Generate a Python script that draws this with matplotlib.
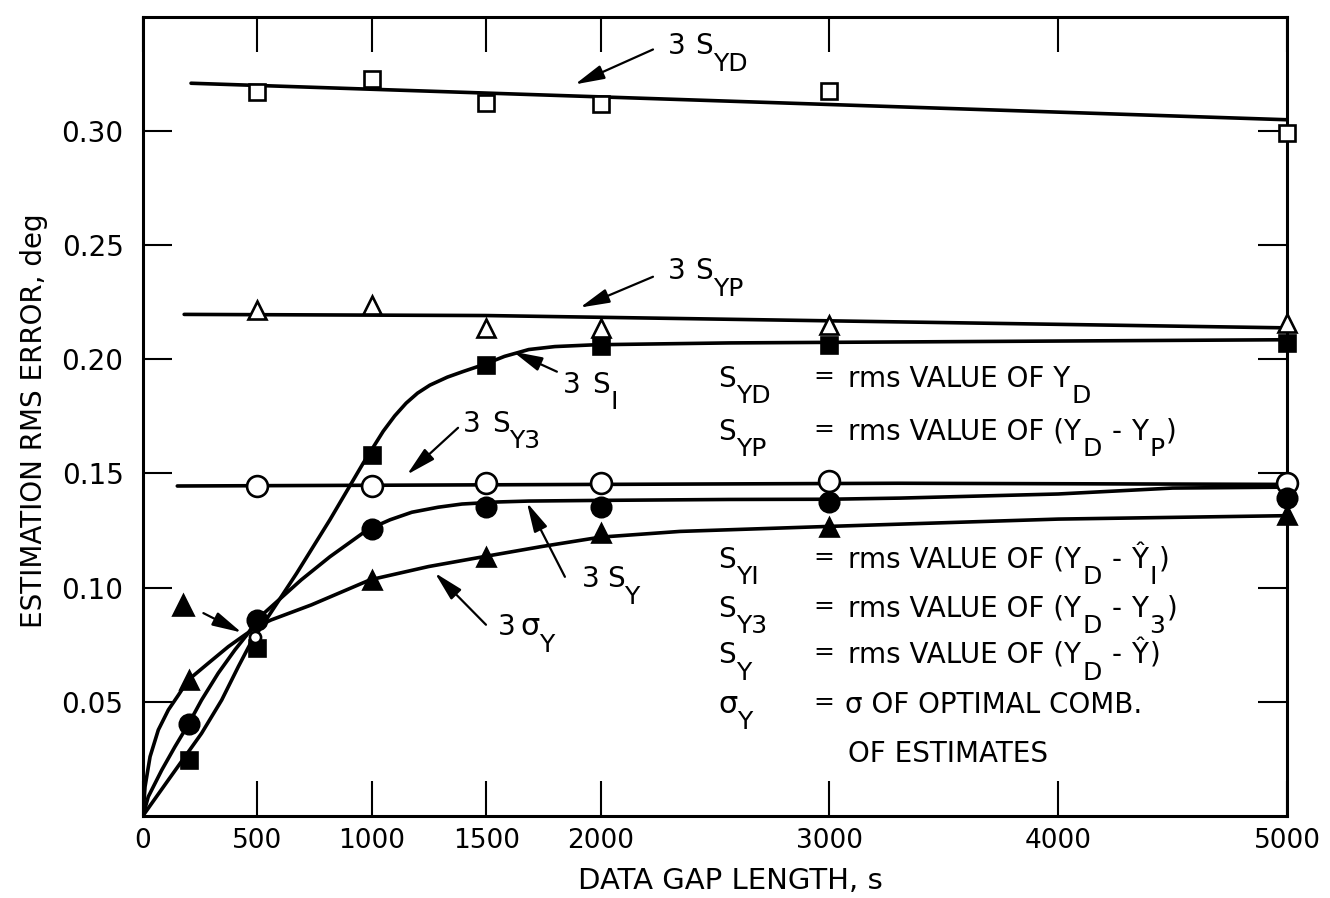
import matplotlib
matplotlib.use("Agg")
import matplotlib.pyplot as plt

plt.rcParams['font.family'] = ['DejaVu Sans']

# ---- marker data ----
gap_a = [500, 1000, 1500, 2000, 3000, 5000]
gap_b = [200, 500, 1000, 1500, 2000, 3000, 5000]
gap_c = [200, 1000, 1500, 2000, 3000, 5000]

s_yd_pts = [0.317, 0.323, 0.3125, 0.3117, 0.3175, 0.2994]
s_yp_pts = [0.2218, 0.224, 0.2138, 0.2138, 0.2152, 0.216]
s_y3_pts = [0.1443, 0.1443, 0.146, 0.146, 0.1465, 0.1458]
s_i_pts = [0.0244, 0.0734, 0.1580, 0.1977, 0.2057, 0.2064, 0.2072]
s_y_pts = [0.0400, 0.0858, 0.1255, 0.1355, 0.1355, 0.1377, 0.1393]
sig_pts = [0.0595, 0.1034, 0.1136, 0.1239, 0.1267, 0.1319]

# ---- faired curves ----
s_yd_cx = [210, 5000]
s_yd_cy = [0.321, 0.305]
s_yp_cx = [180, 1500, 5000]
s_yp_cy = [0.2197, 0.2192, 0.2138]
s_y3_cx = [150, 3300, 5000]
s_y3_cy = [0.1445, 0.1457, 0.1452]
s_i_cx = [0, 38, 111, 256, 344, 417, 475, 526, 672, 817, 963, 1000, 1050, 1100,
          1150, 1200, 1254, 1330, 1400, 1489, 1580, 1686, 1800, 1978, 2561, 5000]
s_i_cy = [0, 0.0054, 0.0157, 0.0361, 0.0507, 0.0654, 0.0765, 0.0840, 0.1063, 0.1297,
          0.1546, 0.1605, 0.1685, 0.1752, 0.1808, 0.1852, 0.1887, 0.1922, 0.1947,
          0.1977, 0.2013, 0.2043, 0.2056, 0.2064, 0.2072, 0.2086]
s_y_cx = [0, 23, 82, 140, 198, 256, 329, 402, 460, 496, 692, 817, 981, 1080, 1175,
          1290, 1394, 1550, 1686, 2000, 2561, 3000, 3309, 4000, 4500, 5000]
s_y_cy = [0, 0.0083, 0.0200, 0.0303, 0.0400, 0.0507, 0.0625, 0.0727, 0.0800, 0.0858,
          0.1034, 0.1135, 0.1253, 0.1297, 0.1330, 0.1352, 0.1366, 0.1375, 0.1379,
          0.1382, 0.1386, 0.1387, 0.1392, 0.1410, 0.1436, 0.1440]
sig_cx = [0, 9, 31, 67, 111, 155, 198, 285, 373, 446, 500, 560, 736, 993, 1248,
          1493, 1744, 2000, 2347, 3000, 4000, 5000]
sig_cy = [0, 0.0127, 0.0259, 0.0376, 0.0464, 0.0529, 0.0595, 0.0668, 0.0741, 0.0793,
          0.0830, 0.0858, 0.0924, 0.1034, 0.1092, 0.1136, 0.1180, 0.1221, 0.1246,
          0.1268, 0.1300, 0.1315]

x_ticks = [0, 500, 1000, 1500, 2000, 3000, 4000, 5000]
y_ticks = [0.05, 0.10, 0.15, 0.20, 0.25, 0.30]
y_ticklabels = ["0.05", "0.10", "0.15", "0.20", "0.25", "0.30"]

fig = plt.figure(figsize=(13.3, 8.98), dpi=100)
ax = fig.add_axes([0.1075, 0.0916, 0.8602, 0.8894])
ax.set_xlim(0, 5000)
ax.set_ylim(0, 0.35)

LW = 2.6
for cx, cy in [(s_yd_cx, s_yd_cy), (s_yp_cx, s_yp_cy), (s_y3_cx, s_y3_cy),
               (s_i_cx, s_i_cy), (s_y_cx, s_y_cy), (sig_cx, sig_cy)]:
    ax.plot(cx, cy, color='black', lw=LW, solid_capstyle='round',
            solid_joinstyle='round', zorder=2)

mk = dict(linestyle='none', markeredgecolor='black', markeredgewidth=1.9,
          clip_on=False, zorder=4)
ax.plot(gap_a, s_yd_pts, marker='s', markersize=12, markerfacecolor='white', **mk)
ax.plot(gap_a, s_yp_pts, marker='^', markersize=13, markerfacecolor='white', **mk)
ax.plot(gap_a, s_y3_pts, marker='o', markersize=15, markerfacecolor='white', **mk)
ax.plot(gap_b, s_i_pts, marker='s', markersize=12, markerfacecolor='black', **mk)
ax.plot(gap_b, s_y_pts, marker='o', markersize=14, markerfacecolor='black', **mk)
ax.plot(gap_c, sig_pts, marker='^', markersize=13, markerfacecolor='black', **mk)
# lone key triangle and the small open spot under the crossing
ax.plot([176], [0.0924], marker='^', markersize=14, markerfacecolor='black', **mk)
ax.plot([490], [0.0785], marker='o', markersize=8, markerfacecolor='white', **mk)

ax.set_xticks(x_ticks)
ax.set_xticklabels([str(v) for v in x_ticks])
ax.set_yticks(y_ticks)
ax.set_yticklabels(y_ticklabels)
ax.tick_params(axis='x', direction='in', length=25, width=1.5, top=True,
               labelsize=19, pad=9)
ax.tick_params(axis='y', direction='in', length=21, width=1.5, right=True,
               labelsize=20, pad=14)
for sp in ax.spines.values():
    sp.set_linewidth(2.2)

ax.set_xlabel("DATA GAP LENGTH, s", fontsize=21)
ax.xaxis.set_label_coords(0.513, -0.064)
ax.set_ylabel("ESTIMATION RMS ERROR, deg", fontsize=20)
ax.yaxis.set_label_coords(-0.083, 0.495)

renderer = fig.canvas.get_renderer()
FS = 20


def rich(x, y, pieces):
    # pieces: (text, gap before in pt, vertical shift in pt, size factor)
    dx = 0.0
    for s, gap, dy, k in pieces:
        dx += gap
        t = ax.annotate(s, (x, y), xytext=(dx, dy), textcoords='offset points',
                        fontsize=FS * k, ha='left', va='baseline', zorder=5)
        dx += t.get_window_extent(renderer).width * 72.0 / fig.dpi


def arrow(tail, head):
    ax.annotate('', xy=head, xytext=tail,
                arrowprops=dict(arrowstyle='-|>,head_length=0.9,head_width=0.22',
                                mutation_scale=20, color='black', lw=1.6,
                                shrinkA=0, shrinkB=0), zorder=5)


SUB = -12
SK = 0.9

# curve labels with leader arrows
rich(2295, 0.3336, [("3", 0, 0, 1), ("S", 7, 0, 1), ("YD", 0, SUB, SK)])
arrow((2229, 0.3358), (1888, 0.3205))
rich(2295, 0.2350, [("3", 0, 0, 1), ("S", 7, 0, 1), ("YP", 0, SUB, SK)])
arrow((2229, 0.2362), (1910, 0.2227))
rich(1836, 0.1854, [("3", 0, 0, 1), ("S", 8, 0, 1), ("I", 1, SUB, SK)])
arrow((1809, 0.1946), (1617, 0.2034))
rich(1399, 0.1683, [("3", 0, 0, 1), ("S", 8, 0, 1), ("Y3", 0, SUB, SK)])
arrow((1377, 0.1700), (1154, 0.1495))
rich(1919, 0.1003, [("3", 0, 0, 1), ("S", 5, 0, 1), ("Y", 0, SUB, SK)])
arrow((1844, 0.1047), (1678, 0.1372))
rich(1552, 0.0792, [("3", 0, 0, 1), ("σ", 3, 0, 1.1), ("Y", 0, SUB, SK)])
arrow((1499, 0.0837), (1276, 0.1064))
arrow((264, 0.0888), (431, 0.0803))

# definitions block
x_s, x_eq, x_txt = 2513, 2928, 3081
rows = [0.1880, 0.1648, 0.1087, 0.0872, 0.0670, 0.0451, 0.0236]
sym = ["YD", "YP", "YI", "Y3", "Y"]
for i, sub in enumerate(sym):
    rich(x_s, rows[i], [("S", 0, 0, 1), (sub, 0, SUB, SK)])
    rich(x_eq, rows[i], [("=", 0, 3, 0.9)])
rich(x_s, rows[5], [("σ", 0, 0, 1.1), ("Y", 0, SUB, SK)])
rich(x_eq, rows[5], [("=", 0, 3, 0.9)])

rich(x_txt, rows[0], [("rms VALUE OF Y", 0, 0, 1), ("D", 1, SUB, SK)])
rich(x_txt, rows[1], [("rms VALUE OF (Y", 0, 0, 1), ("D", 1, SUB, SK),
                      ("-", 7, 0, 1), ("Y", 7, 0, 1), ("P", 1, SUB, SK), (")", 1, 0, 1)])
rich(x_txt, rows[2], [("rms VALUE OF (Y", 0, 0, 1), ("D", 1, SUB, SK),
                      ("-", 7, 0, 1), ("Ŷ", 7, 0, 1), ("I", 1, SUB, SK), (")", 1, 0, 1)])
rich(x_txt, rows[3], [("rms VALUE OF (Y", 0, 0, 1), ("D", 1, SUB, SK),
                      ("-", 7, 0, 1), ("Y", 7, 0, 1), ("3", 1, SUB, SK), (")", 1, 0, 1)])
rich(x_txt, rows[4], [("rms VALUE OF (Y", 0, 0, 1), ("D", 1, SUB, SK),
                      ("-", 7, 0, 1), ("Ŷ", 7, 0, 1), (")", 1, 0, 1)])
rich(x_txt - 15, rows[5], [("σ OF OPTIMAL COMB.", 0, 0, 1)])
rich(x_txt, rows[6], [("OF ESTIMATES", 0, 0, 1)])

fig.savefig("out.png", dpi=100)
